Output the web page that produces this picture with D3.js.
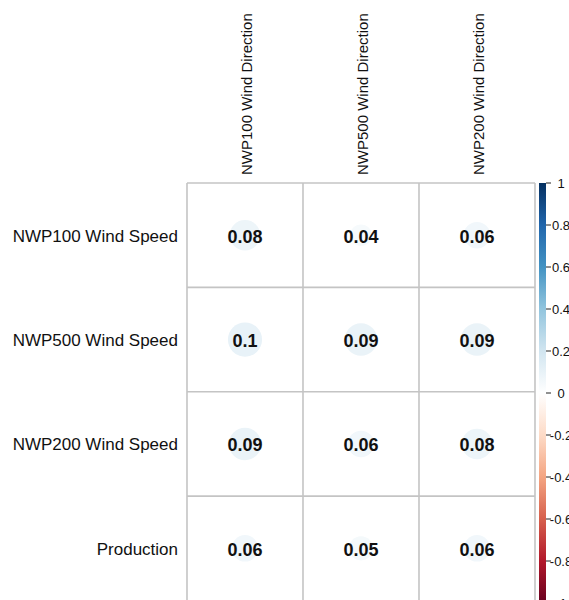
<!DOCTYPE html>
<html>
<head>
<meta charset="utf-8">
<script src="https://cdn.jsdelivr.net/npm/d3@7"></script>
<style>
  html, body { margin: 0; padding: 0; background: #fff; }
  svg { display: block; font-family: "Liberation Sans", Arial, sans-serif; }
</style>
</head>
<body>
<svg id="chart" width="569" height="600"></svg>
<script>
// Correlation matrix: wind-speed / production rows against wind-direction columns
const rowLabels = ["NWP100 Wind Speed", "NWP500 Wind Speed", "NWP200 Wind Speed", "Production"];
const colLabels = ["NWP100 Wind Direction", "NWP500 Wind Direction", "NWP200 Wind Direction"];
const valuesNWP100Speed = [0.08, 0.04, 0.06];
const valuesNWP500Speed = [0.1, 0.09, 0.09];
const valuesNWP200Speed = [0.09, 0.06, 0.08];
const valuesProduction = [0.06, 0.05, 0.06];
const matrix = [valuesNWP100Speed, valuesNWP500Speed, valuesNWP200Speed, valuesProduction];
const legendTicks = [1, 0.8, 0.6, 0.4, 0.2, 0, -0.2, -0.4, -0.6, -0.8, -1];
const paletteRdBu = ["#67001F", "#B2182B", "#D6604D", "#F4A582", "#FDDBC7", "#FFFFFF",
                     "#D1E5F0", "#92C5DE", "#4393C3", "#2166AC", "#053061"];

const svg = d3.select("#chart");

const gridLeft = 187, gridRight = 535, gridTop = 183, gridBottom = 600.5;

const x = d3.scaleBand().domain(d3.range(colLabels.length)).range([gridLeft, gridRight]);
const y = d3.scaleBand().domain(d3.range(rowLabels.length)).range([gridTop, gridBottom]);

const color = d3.scaleLinear()
  .domain(d3.range(paletteRdBu.length).map(i => -1 + 2 * i / (paletteRdBu.length - 1)))
  .range(paletteRdBu)
  .interpolate(d3.interpolateRgb);

const radius = d3.scaleSqrt().domain([0, 1]).range([0, 54]);

const cells = [];
matrix.forEach((row, i) => row.forEach((v, j) => cells.push({ i, j, v })));

// circles
svg.append("g").selectAll("circle").data(cells).join("circle")
  .attr("cx", d => x(d.j) + x.bandwidth() / 2)
  .attr("cy", d => y(d.i) + y.bandwidth() / 2)
  .attr("r", d => radius(Math.abs(d.v)))
  .attr("fill", d => color(d.v));

// grid lines
const grid = svg.append("g").attr("stroke", "#c4c4c4").attr("stroke-width", 1.6).attr("fill", "none");
d3.range(colLabels.length + 1).forEach(k => {
  const gx = k < colLabels.length ? x(k) : gridRight;
  grid.append("line").attr("x1", gx).attr("x2", gx).attr("y1", gridTop).attr("y2", gridBottom + 10);
});
d3.range(rowLabels.length).forEach(k => {
  grid.append("line").attr("x1", gridLeft).attr("x2", gridRight).attr("y1", y(k)).attr("y2", y(k));
});

// coefficient labels
svg.append("g").selectAll("text").data(cells).join("text")
  .attr("x", d => x(d.j) + x.bandwidth() / 2)
  .attr("y", d => y(d.i) + y.bandwidth() / 2 + 7.5)
  .attr("text-anchor", "middle")
  .attr("font-size", 18)
  .attr("font-weight", "bold")
  .attr("fill", "#111")
  .text(d => String(d.v));

// row labels
svg.append("g").selectAll("text").data(rowLabels).join("text")
  .attr("x", 178)
  .attr("y", (d, i) => y(i) + y.bandwidth() / 2 + 6.5)
  .attr("text-anchor", "end")
  .attr("font-size", 17)
  .attr("fill", "#111")
  .text(d => d);

// column labels
svg.append("g").selectAll("text").data(colLabels).join("text")
  .attr("transform", (d, j) => `translate(${x(j) + x.bandwidth() / 2 + 7},175) rotate(-90)`)
  .attr("text-anchor", "start")
  .attr("font-size", 15)
  .attr("fill", "#111")
  .text(d => d);

// colour legend
const legTop = 183, legBottom = 603, legX = 539, legW = 7;
const ly = d3.scaleLinear().domain([-1, 1]).range([legBottom, legTop]);
const defs = svg.append("defs");
const grad = defs.append("linearGradient").attr("id", "rdbu")
  .attr("x1", 0).attr("y1", 1).attr("x2", 0).attr("y2", 0);
paletteRdBu.forEach((c, i) => {
  grad.append("stop").attr("offset", i / (paletteRdBu.length - 1)).attr("stop-color", c);
});
svg.append("rect")
  .attr("x", legX).attr("y", legTop)
  .attr("width", legW).attr("height", legBottom - legTop)
  .attr("fill", "url(#rdbu)");

const legAxis = svg.append("g");
legAxis.selectAll("line").data(legendTicks).join("line")
  .attr("x1", legX + legW).attr("x2", legX + legW + 5)
  .attr("y1", d => ly(d)).attr("y2", d => ly(d))
  .attr("stroke", "#222").attr("stroke-width", 1);
legAxis.selectAll("text").data(legendTicks).join("text")
  .attr("x", 561)
  .attr("y", d => ly(d) + 4.5)
  .attr("text-anchor", "middle")
  .attr("font-size", 13)
  .attr("fill", "#111")
  .text(d => String(d));
</script>
</body>
</html>
